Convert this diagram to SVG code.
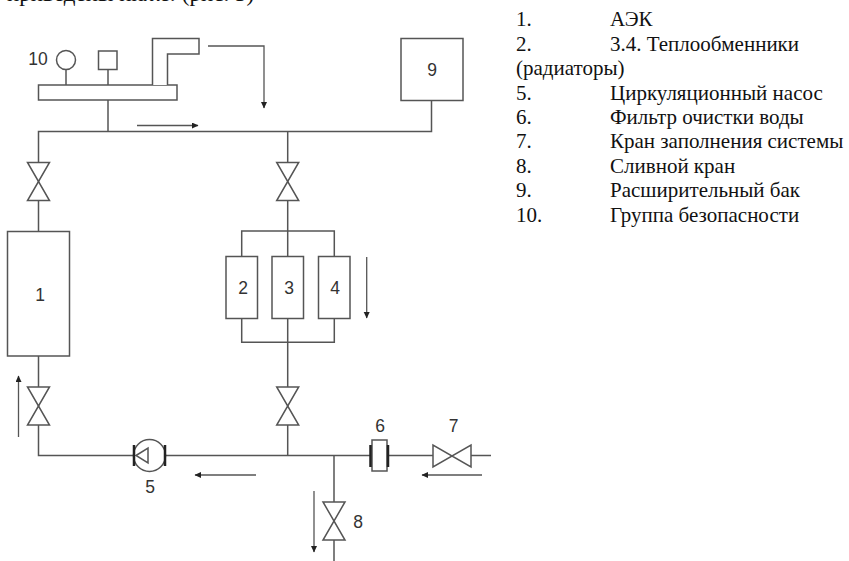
<svg xmlns="http://www.w3.org/2000/svg" width="849" height="561" viewBox="0 0 849 561">
<style>
.l{fill:none;stroke:#555;stroke-width:1.5}
.b{fill:#fff;stroke:#555;stroke-width:1.5}
.f{fill:none;stroke:#222;stroke-width:2.5}
.a{fill:none;stroke:#555;stroke-width:1.3;marker-end:url(#m)}
.n{font-family:"Liberation Sans",Arial,sans-serif;font-size:17.500px;fill:#333;text-anchor:middle}
.t{font-family:"Liberation Serif","Times New Roman",serif;font-size:21px;fill:#111}
</style>
<defs>
<marker id="m" markerUnits="userSpaceOnUse" markerWidth="8" markerHeight="8" refX="6" refY="3" orient="auto"><path d="M0 0L6.500 3L0 6Z" fill="#222"/></marker>
<path id="vv" d="M-11 -19H11L-11 19H11Z" class="b"/>
</defs>
<rect width="849" height="561" fill="#fff"/>
<text class="t" x="7" y="1" style="font-size:23px">приведены ниже: (рис. 3)</text>
<g id="connectors">
<path class="l" d="M38.500 231V131.500H431.500V100.500"/>
<path class="l" d="M108 100V131.500"/>
<path class="l" d="M287.700 131.500V231M241.700 256V231H334.300V256M287.700 231V256"/>
<path class="l" d="M241.700 318V342.300H334.300V318M287.700 318V455.500"/>
<path class="l" d="M38.500 356V455.500H134M165 455.500H370M389 455.500H433M471 455.500H491"/>
<path class="l" d="M334 455.500V561"/>
<path class="l" d="M66 70V85M108 70V85"/>
<path class="a" d="M208 46H264V108"/>
<path class="a" d="M137 125.500H198"/>
<path class="a" d="M366.700 257V318"/>
<path class="a" d="M18.500 437V376"/>
<path class="a" d="M256 475H195"/>
<path class="a" d="M482 475H422"/>
<path class="a" d="M314 491V552"/>
</g>
<g id="n1"><rect class="b" x="7.500" y="231.500" width="62" height="124.500"/><text class="n" x="40" y="301">1</text></g>
<g id="n2"><rect class="b" x="226" y="256.500" width="31.500" height="62"/><text class="n" x="243" y="294">2</text></g>
<g id="n3"><rect class="b" x="272" y="256.500" width="31.500" height="62"/><text class="n" x="289" y="294">3</text></g>
<g id="n4"><rect class="b" x="318.500" y="256.500" width="31.500" height="62"/><text class="n" x="335" y="294">4</text></g>
<g id="n9"><rect class="b" x="401" y="38.500" width="62" height="62"/><text class="n" x="432" y="76">9</text></g>
<g id="n10"><rect class="b" x="38.500" y="85" width="138.500" height="15"/>
<circle class="b" cx="66" cy="60" r="9.500"/><rect class="b" x="98.500" y="51" width="18.500" height="18.500"/>
<path class="b" d="M152.500 85V38.500H199V54H167.500V85"/>
<text class="n" x="38" y="65">10</text></g>
<g id="v1"><use href="#vv" x="38.500" y="181.500"/></g>
<g id="v2"><use href="#vv" x="38.500" y="406"/></g>
<g id="v3"><use href="#vv" x="287.700" y="181.500"/></g>
<g id="v4"><use href="#vv" x="287.700" y="406"/></g>
<g id="n8"><use href="#vv" x="334" y="521"/><text class="n" x="358" y="527.500">8</text></g>
<g id="n7"><path class="b" d="M433 445V467L471 445V467Z"/><text class="n" x="453.500" y="432">7</text></g>
<g id="n5"><circle class="b" cx="149.500" cy="455.500" r="16"/><path class="b" d="M136 455.500L148 448V463Z"/><path class="f" d="M134 445V466M165 445V466"/><text class="n" x="150" y="493">5</text></g>
<g id="n6"><rect class="b" x="372" y="440" width="15" height="31"/><path class="f" d="M370.500 445V467M388 445V467"/><text class="n" x="380" y="432">6</text></g>
<g id="legend" class="t">
<text x="516" y="26">1.</text><text x="610" y="26">АЭК</text>
<text x="516" y="50.500">2.</text><text x="610" y="50.500">3.4. Теплообменники</text>
<text x="516" y="75">(радиаторы)</text>
<text x="516" y="99.500">5.</text><text x="610" y="99.500">Циркуляционный насос</text>
<text x="516" y="123.500">6.</text><text x="610" y="123.500">Фильтр очистки воды</text>
<text x="516" y="147.500">7.</text><text x="610" y="147.500">Кран заполнения системы</text>
<text x="516" y="172.500">8.</text><text x="610" y="172.500">Сливной кран</text>
<text x="516" y="197">9.</text><text x="610" y="197">Расширительный бак</text>
<text x="516" y="222">10.</text><text x="610" y="222">Группа безопасности</text>
</g>
</svg>
